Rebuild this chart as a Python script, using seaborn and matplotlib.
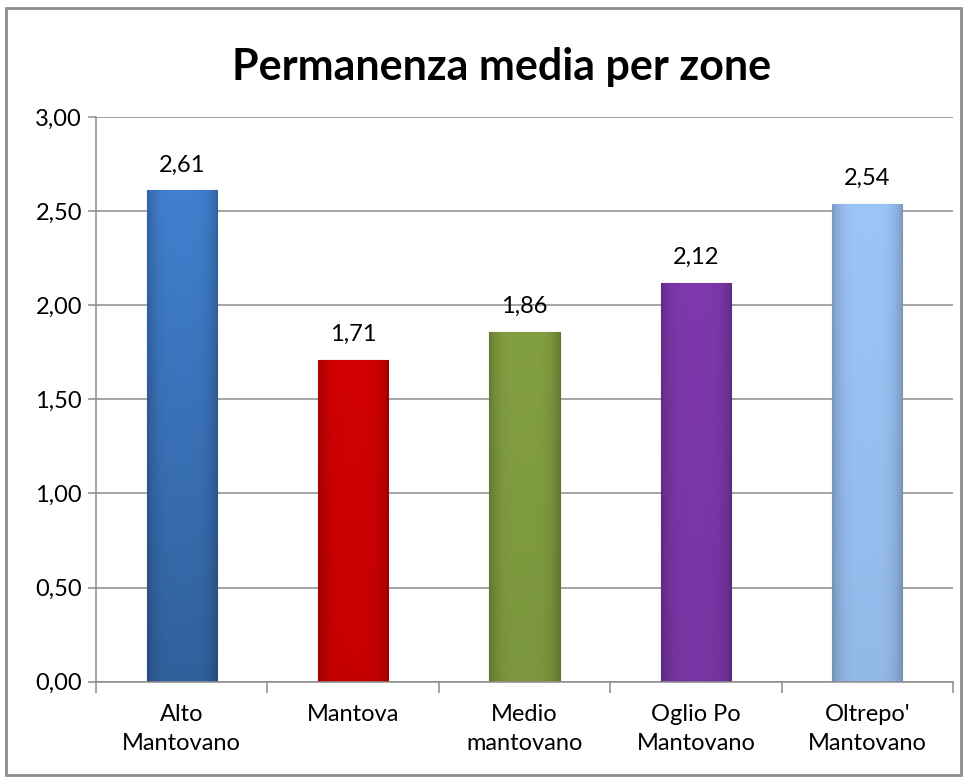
import numpy as np
import pandas as pd
import matplotlib
matplotlib.use('Agg')
import matplotlib.pyplot as plt
import matplotlib.colors as mcolors
from matplotlib.patches import Rectangle
from matplotlib.ticker import MultipleLocator, FuncFormatter
import seaborn as sns

# Chart data
zones = ['Alto\nMantovano', 'Mantova', 'Medio\nmantovano', 'Oglio Po\nMantovano', "Oltrepo'\nMantovano"]
permanenza = [2.61, 1.71, 1.86, 2.12, 2.54]
bar_colors = ['#3f7cc9', '#cc0000', '#7f9b3f', '#7a37a7', '#98bff0']

df = pd.DataFrame({'zona': zones, 'permanenza': permanenza})

sns.set_theme(style='white')
plt.rcParams['font.family'] = ['Lato', 'DejaVu Sans']

fig = plt.figure(figsize=(9.65, 7.8), dpi=100)
ax = fig.add_axes([0.0995, 0.126, 0.888, 0.724])

sns.barplot(data=df, x='zona', y='permanenza', hue='zona', palette=bar_colors,
            width=0.41, legend=False, ax=ax, saturation=1)

# shading on each bar, a bit darker at the sides
shade = np.linspace(-1, 1, 64)
side = 1 - 0.22 * np.abs(shade) ** 4
for i, (patch, col) in enumerate(zip(ax.patches, bar_colors)):
    x0, y0 = patch.get_x(), patch.get_y()
    w, h = patch.get_width(), patch.get_height()
    rgb = np.array(mcolors.to_rgb(col))
    lo = 0.78 if i == 0 else 0.97
    vert = np.linspace(lo, 1.03, 64)[::-1][:, None]
    img = np.clip(rgb[None, None, :] * side[None, :, None] * vert[:, :, None], 0, 1)
    im = ax.imshow(img, extent=[x0, x0 + w, y0, y0 + h], aspect='auto', zorder=patch.get_zorder() + 0.1,
                   origin='upper')
    im.set_clip_path(patch)
    patch.set_edgecolor(mcolors.to_hex(rgb * 0.75))
    patch.set_linewidth(0.8)
    ax.text(x0 + w / 2, y0 + h + 0.08, f'{h:.2f}'.replace('.', ','), ha='center', va='bottom',
            fontsize=17, color='black')

ax.set_ylim(0, 3)
ax.set_xlim(-0.5, len(zones) - 0.5)
ax.yaxis.set_major_locator(MultipleLocator(0.5))
ax.yaxis.set_major_formatter(FuncFormatter(lambda v, p: f'{v:.2f}'.replace('.', ',')))
ax.grid(axis='y', color='#8c8c8c', linewidth=1.1)
ax.set_axisbelow(True)

for s in ['top', 'right']:
    ax.spines[s].set_visible(False)
for s in ['left', 'bottom']:
    ax.spines[s].set_color('#8c8c8c')
    ax.spines[s].set_linewidth(1.1)

ax.set_xticks(np.arange(-0.5, len(zones) + 0.5, 1), minor=True)
ax.tick_params(axis='x', which='minor', length=8, color='#8c8c8c', width=1.1, bottom=True)
ax.tick_params(axis='x', which='major', length=0, pad=16, labelsize=17, colors='black')
ax.tick_params(axis='y', length=6, color='#8c8c8c', width=1.1, left=True, labelsize=17, colors='black', pad=4)
for lbl in ax.get_xticklabels():
    lbl.set_linespacing(1.45)
ax.set_xlabel('')
ax.set_ylabel('')

fig.text(0.52, 0.914, 'Permanenza media per zone', ha='center', va='center',
         fontsize=31, fontweight='bold', color='black')

# outer chart border
fig.patches.append(Rectangle((0.006, 0.006), 0.99, 0.984, transform=fig.transFigure,
                             fill=False, edgecolor='#8c8c8c', linewidth=2))

fig.savefig('out.png', dpi=100, facecolor='white')
